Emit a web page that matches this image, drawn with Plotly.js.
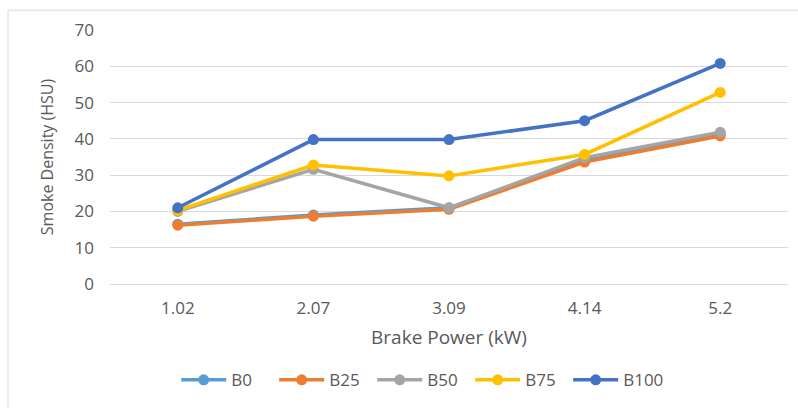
<!DOCTYPE html>
<html>
<head>
<meta charset="utf-8">
<script src="https://cdn.plot.ly/plotly-3.0.1.min.js"></script>
<style>
  html, body { margin: 0; padding: 0; background: #ffffff; }
  #chart { width: 798px; height: 408px; }
</style>
</head>
<body>
<div id="chart"></div>
<script>
// Smoke density of biodiesel blends against brake power
const brakePower = ['1.02', '2.07', '3.09', '4.14', '5.2'];
const b0   = [16.5, 19.0, 21.0, 34.2, 41.4];
const b25  = [16.2, 18.7, 20.6, 33.6, 40.8];
const b50  = [20.0, 31.6, 21.0, 34.8, 41.8];
const b75  = [20.3, 32.8, 29.8, 35.7, 52.8];
const b100 = [21.0, 39.8, 39.8, 45.0, 60.8];

const seriesNames  = ['B0', 'B25', 'B50', 'B75', 'B100'];
const seriesValues = [b0, b25, b50, b75, b100];
const seriesColors = ['#5B9BD5', '#ED7D31', '#A5A5A5', '#FFC000', '#4472C4'];

const font = '"Open Sans", sans-serif';
const grey = '#595959';

const traces = seriesNames.map((name, i) => ({
  type: 'scatter',
  mode: 'lines+markers',
  name: name,
  x: brakePower,
  y: seriesValues[i],
  line: { color: seriesColors[i], width: 3.5 },
  marker: { color: seriesColors[i], size: 11 }
}));

const layout = {
  width: 798,
  height: 408,
  margin: { l: 110, r: 10, t: 30, b: 122 },
  paper_bgcolor: '#ffffff',
  plot_bgcolor: '#ffffff',
  font: { family: font, color: grey, size: 16 },
  showlegend: true,
  legend: {
    orientation: 'h',
    x: 0.459, xanchor: 'center',
    y: -0.379, yanchor: 'middle',
    font: { family: font, size: 17, color: grey },
    itemwidth: 45,
    entrywidth: 38,
    entrywidthmode: 'pixels'
  },
  xaxis: {
    type: 'category',
    range: [-0.5, 4.5],
    showgrid: false,
    zeroline: false,
    showline: true,
    linecolor: '#D9D9D9',
    linewidth: 1,
    ticks: '',
    ticklabelstandoff: 9,
    tickfont: { family: font, size: 17, color: grey },
    title: { text: 'Brake Power (kW)', font: { family: font, size: 19, color: grey }, standoff: 12 }
  },
  yaxis: {
    range: [0, 70],
    dtick: 10,
    showgrid: true,
    gridcolor: '#D9D9D9',
    gridwidth: 1,
    zeroline: false,
    showline: false,
    ticks: '',
    ticklen: 0,
    ticklabelstandoff: 15,
    tickfont: { family: font, size: 17, color: grey },
    title: { text: 'Smoke Density (HSU)', font: { family: font, size: 16, color: grey }, standoff: 16 }
  },
  shapes: [{
    type: 'rect',
    xref: 'paper', yref: 'paper',
    x0: -0.1504, x1: 1.03,
    y0: -0.55, y1: 1.078,
    line: { color: '#D9D9D9', width: 1 },
    fillcolor: 'rgba(0,0,0,0)',
    layer: 'below'
  }]
};

Plotly.newPlot('chart', traces, layout, { displayModeBar: false, staticPlot: true });
</script>
</body>
</html>
